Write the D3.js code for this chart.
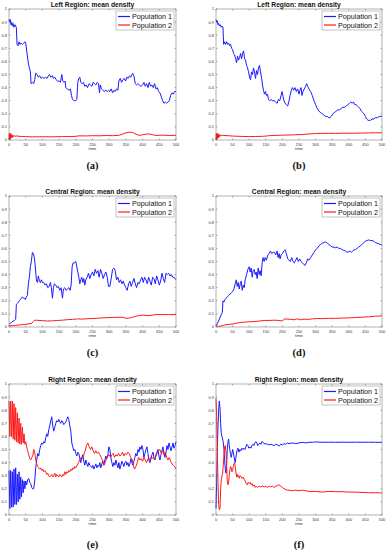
<!DOCTYPE html>
<html>
<head>
<meta charset="utf-8">
<script src="https://cdn.jsdelivr.net/npm/d3@7"></script>
<style>
  body { margin: 0; background: #fff; }
  svg { display: block; }
</style>
</head>
<body>
<svg id="chart" width="388" height="550"></svg>
<script>
(() => {
  const X_TICKS = [0, 50, 100, 150, 200, 250, 300, 350, 400, 450, 500];
  const Y_TICKS = [0, 0.1, 0.2, 0.3, 0.4, 0.5, 0.6, 0.7, 0.8, 0.9, 1];
  const SERIES_NAMES = ["Population 1", "Population 2"];
  const SERIES_COLORS = ["#1a1aff", "#ff1a1a"];

  // [time, mean density]
  const leftA1 = [[0,0.92],[2,0.90],[4,0.92],[6,0.88],[8,0.90],[10,0.87],[12,0.89],[15,0.86],[18,0.88],[20,0.87],[22,0.86],[24,0.73],[27,0.72],[30,0.75],[33,0.73],[36,0.74],[40,0.73],[44,0.74],[48,0.75],[50,0.74],[53,0.68],[56,0.62],[59,0.57],[62,0.54],[64,0.52],[66,0.43],[70,0.44],[74,0.43],[77,0.46],[80,0.51],[84,0.50],[88,0.48],[92,0.49],[96,0.47],[100,0.48],[105,0.47],[110,0.48],[114,0.47],[118,0.49],[121,0.50],[125,0.48],[130,0.49],[133,0.47],[137,0.48],[141,0.46],[145,0.45],[150,0.45],[154,0.44],[158,0.50],[161,0.45],[165,0.44],[168,0.45],[170,0.40],[175,0.39],[180,0.38],[184,0.39],[187,0.34],[190,0.31],[195,0.30],[200,0.30],[203,0.31],[206,0.44],[209,0.47],[212,0.48],[215,0.44],[219,0.43],[223,0.44],[227,0.41],[231,0.42],[235,0.40],[240,0.43],[244,0.42],[248,0.41],[252,0.44],[256,0.43],[260,0.42],[264,0.44],[268,0.43],[271,0.36],[273,0.42],[277,0.39],[281,0.38],[285,0.37],[290,0.38],[294,0.37],[298,0.38],[302,0.37],[306,0.39],[310,0.36],[314,0.38],[318,0.37],[322,0.39],[326,0.38],[329,0.45],[333,0.47],[337,0.44],[341,0.46],[345,0.47],[349,0.45],[353,0.48],[357,0.47],[361,0.49],[365,0.48],[370,0.51],[374,0.49],[378,0.43],[382,0.42],[386,0.43],[390,0.42],[395,0.41],[400,0.42],[404,0.44],[408,0.41],[412,0.43],[416,0.40],[420,0.44],[424,0.41],[428,0.42],[432,0.40],[436,0.43],[440,0.39],[444,0.40],[448,0.37],[452,0.36],[456,0.33],[460,0.30],[464,0.28],[468,0.29],[472,0.28],[476,0.29],[480,0.30],[484,0.34],[488,0.36],[492,0.35],[496,0.37],[500,0.37]];
  const leftA2 = [[0,0.00],[1,0.05],[2,0.01],[3,0.045],[4,0.005],[5,0.05],[6,0.015],[7,0.04],[8,0.02],[9,0.04],[10,0.02],[12,0.035],[14,0.025],[16,0.034],[18,0.027],[20,0.03],[25,0.031],[30,0.028],[40,0.027],[50,0.026],[60,0.025],[70,0.024],[80,0.025],[90,0.024],[100,0.025],[120,0.024],[140,0.025],[160,0.026],[180,0.026],[200,0.028],[210,0.032],[230,0.031],[250,0.033],[270,0.032],[290,0.034],[310,0.033],[330,0.036],[340,0.045],[350,0.055],[360,0.06],[370,0.058],[380,0.045],[390,0.035],[400,0.04],[410,0.045],[420,0.046],[430,0.04],[440,0.035],[460,0.037],[480,0.034],[500,0.036]];

  const leftB1 = [[0,0.92],[2,0.90],[4,0.91],[6,0.88],[8,0.89],[10,0.87],[13,0.88],[16,0.86],[19,0.87],[21,0.86],[23,0.73],[26,0.75],[29,0.73],[32,0.75],[35,0.73],[38,0.74],[41,0.72],[44,0.73],[47,0.70],[50,0.69],[53,0.66],[56,0.65],[59,0.62],[62,0.59],[65,0.64],[68,0.61],[71,0.63],[74,0.66],[77,0.62],[80,0.66],[83,0.68],[86,0.62],[89,0.61],[92,0.57],[95,0.55],[98,0.52],[101,0.48],[104,0.46],[107,0.52],[110,0.50],[113,0.55],[116,0.52],[119,0.47],[122,0.53],[125,0.50],[128,0.55],[131,0.57],[134,0.52],[137,0.48],[140,0.42],[143,0.38],[146,0.35],[149,0.37],[152,0.34],[155,0.35],[158,0.31],[162,0.30],[166,0.31],[170,0.30],[175,0.30],[180,0.29],[184,0.28],[188,0.31],[192,0.30],[196,0.34],[199,0.37],[202,0.33],[205,0.30],[208,0.28],[212,0.27],[216,0.26],[220,0.30],[223,0.34],[227,0.38],[230,0.40],[234,0.38],[238,0.40],[242,0.37],[246,0.39],[250,0.35],[253,0.38],[256,0.40],[259,0.34],[262,0.37],[266,0.39],[270,0.41],[273,0.43],[276,0.41],[280,0.39],[285,0.37],[290,0.34],[295,0.30],[300,0.27],[305,0.24],[310,0.22],[315,0.21],[320,0.20],[325,0.19],[330,0.18],[335,0.18],[340,0.17],[343,0.17],[347,0.18],[352,0.20],[357,0.21],[362,0.22],[367,0.23],[372,0.23],[377,0.24],[382,0.25],[387,0.25],[392,0.26],[397,0.27],[402,0.28],[406,0.29],[410,0.28],[414,0.29],[418,0.27],[422,0.27],[426,0.26],[430,0.25],[434,0.24],[438,0.22],[442,0.21],[446,0.20],[450,0.18],[454,0.16],[458,0.15],[462,0.15],[466,0.15],[470,0.16],[475,0.16],[480,0.17],[486,0.17],[492,0.18],[500,0.18]];
  const leftB2 = [[0,0.0],[1,0.05],[2,0.005],[3,0.045],[4,0.01],[5,0.05],[6,0.015],[7,0.045],[8,0.02],[9,0.04],[10,0.025],[12,0.04],[14,0.03],[16,0.038],[18,0.032],[20,0.036],[30,0.034],[40,0.032],[50,0.03],[60,0.029],[80,0.027],[100,0.026],[120,0.027],[140,0.028],[150,0.03],[160,0.033],[180,0.035],[200,0.037],[220,0.038],[240,0.04],[260,0.042],[280,0.046],[300,0.05],[320,0.05],[340,0.051],[360,0.05],[380,0.052],[400,0.051],[420,0.052],[440,0.053],[460,0.054],[480,0.055],[500,0.055]];

  const centralC1 = [[0,0.02],[4,0.03],[8,0.035],[12,0.045],[16,0.05],[20,0.06],[22,0.17],[25,0.18],[28,0.19],[31,0.20],[34,0.21],[37,0.22],[40,0.23],[43,0.22],[46,0.22],[49,0.21],[52,0.23],[55,0.24],[58,0.33],[61,0.38],[64,0.46],[67,0.50],[70,0.57],[73,0.56],[76,0.53],[78,0.48],[80,0.42],[82,0.36],[85,0.34],[88,0.39],[91,0.35],[94,0.34],[97,0.36],[100,0.34],[104,0.34],[108,0.32],[112,0.33],[116,0.30],[120,0.31],[124,0.34],[127,0.30],[130,0.22],[133,0.30],[136,0.33],[140,0.32],[144,0.30],[148,0.31],[152,0.28],[156,0.30],[160,0.22],[163,0.29],[167,0.30],[171,0.28],[175,0.29],[179,0.30],[183,0.28],[186,0.32],[189,0.46],[192,0.49],[196,0.49],[200,0.50],[203,0.46],[206,0.42],[209,0.38],[212,0.33],[215,0.36],[218,0.38],[221,0.34],[224,0.37],[227,0.32],[230,0.36],[234,0.38],[238,0.41],[242,0.37],[246,0.40],[250,0.42],[254,0.39],[258,0.44],[262,0.41],[266,0.43],[270,0.38],[274,0.44],[278,0.41],[282,0.37],[286,0.40],[290,0.42],[294,0.38],[298,0.31],[302,0.31],[306,0.37],[310,0.44],[314,0.45],[318,0.43],[322,0.36],[326,0.38],[330,0.34],[334,0.36],[338,0.33],[342,0.35],[346,0.32],[350,0.30],[354,0.28],[358,0.33],[362,0.35],[366,0.31],[370,0.34],[374,0.37],[378,0.33],[382,0.30],[386,0.34],[390,0.33],[394,0.36],[398,0.38],[402,0.34],[406,0.38],[410,0.36],[414,0.33],[418,0.38],[422,0.35],[426,0.32],[430,0.38],[434,0.37],[438,0.33],[442,0.39],[446,0.36],[450,0.32],[454,0.35],[458,0.41],[462,0.37],[466,0.34],[470,0.41],[474,0.40],[478,0.41],[482,0.39],[486,0.40],[490,0.38],[494,0.38],[500,0.36]];
  const centralC2 = [[0,0.01],[10,0.01],[20,0.012],[30,0.016],[40,0.018],[50,0.02],[60,0.024],[68,0.028],[72,0.04],[76,0.05],[82,0.052],[90,0.05],[100,0.048],[115,0.046],[130,0.047],[145,0.05],[160,0.052],[175,0.056],[190,0.058],[205,0.062],[220,0.06],[240,0.064],[260,0.066],[280,0.07],[300,0.072],[320,0.074],[340,0.075],[350,0.066],[360,0.068],[370,0.075],[380,0.082],[390,0.088],[400,0.09],[420,0.087],[440,0.095],[460,0.095],[480,0.095],[500,0.095]];

  const centralD1 = [[0,0.01],[5,0.03],[10,0.06],[15,0.09],[19,0.11],[21,0.20],[24,0.19],[27,0.21],[30,0.22],[34,0.23],[38,0.24],[42,0.25],[46,0.26],[50,0.27],[54,0.29],[58,0.33],[61,0.36],[64,0.31],[67,0.34],[70,0.29],[73,0.33],[76,0.35],[79,0.28],[82,0.32],[85,0.30],[88,0.36],[92,0.40],[96,0.44],[100,0.46],[103,0.42],[106,0.45],[109,0.38],[112,0.43],[115,0.44],[118,0.40],[121,0.42],[124,0.37],[127,0.45],[130,0.40],[133,0.43],[136,0.39],[139,0.49],[142,0.53],[145,0.50],[148,0.53],[152,0.51],[156,0.55],[160,0.56],[164,0.58],[168,0.56],[172,0.57],[176,0.57],[180,0.55],[184,0.58],[187,0.53],[190,0.56],[193,0.52],[196,0.55],[200,0.56],[204,0.58],[208,0.59],[212,0.56],[216,0.52],[220,0.51],[224,0.50],[228,0.53],[232,0.50],[236,0.49],[240,0.51],[244,0.53],[248,0.50],[252,0.52],[256,0.50],[260,0.49],[264,0.48],[268,0.47],[272,0.49],[276,0.52],[280,0.51],[285,0.53],[290,0.55],[295,0.57],[300,0.59],[305,0.60],[310,0.62],[315,0.63],[320,0.64],[325,0.645],[330,0.65],[335,0.64],[340,0.63],[345,0.62],[350,0.61],[355,0.61],[360,0.605],[365,0.61],[370,0.60],[375,0.60],[380,0.59],[385,0.585],[390,0.58],[395,0.57],[400,0.575],[404,0.58],[408,0.57],[412,0.58],[416,0.59],[420,0.59],[425,0.60],[430,0.61],[435,0.62],[440,0.63],[445,0.645],[450,0.655],[455,0.66],[460,0.665],[465,0.66],[470,0.66],[475,0.655],[480,0.645],[485,0.64],[490,0.635],[495,0.63],[500,0.625]];
  const centralD2 = [[0,0.01],[8,0.005],[15,0.008],[22,0.012],[30,0.018],[40,0.02],[50,0.022],[60,0.028],[70,0.033],[80,0.036],[90,0.038],[100,0.04],[115,0.042],[130,0.045],[145,0.05],[160,0.05],[175,0.052],[190,0.05],[200,0.046],[206,0.062],[215,0.06],[225,0.058],[235,0.055],[245,0.062],[255,0.055],[265,0.06],[275,0.058],[290,0.062],[305,0.065],[320,0.064],[340,0.066],[360,0.066],[380,0.068],[400,0.07],[420,0.072],[440,0.075],[460,0.078],[480,0.082],[500,0.085]];

  const rightE1 = [[0,0.34],[2.5,0.05],[5,0.34],[7.5,0.06],[10,0.33],[12.5,0.06],[15,0.35],[17.5,0.08],[20,0.36],[22.5,0.08],[25,0.31],[27.5,0.10],[30,0.33],[32.5,0.12],[35,0.29],[37.5,0.14],[40,0.27],[42.5,0.17],[45,0.26],[47.5,0.20],[50,0.26],[53,0.23],[56,0.27],[59,0.28],[62,0.25],[65,0.24],[68,0.21],[71,0.20],[74,0.20],[77,0.26],[80,0.36],[83,0.42],[86,0.47],[89,0.45],[92,0.50],[95,0.53],[98,0.55],[101,0.54],[104,0.56],[107,0.55],[110,0.59],[113,0.62],[116,0.60],[119,0.65],[122,0.68],[125,0.72],[128,0.75],[131,0.68],[134,0.64],[137,0.67],[140,0.70],[143,0.72],[146,0.71],[149,0.73],[152,0.71],[155,0.70],[158,0.72],[161,0.71],[164,0.69],[167,0.70],[170,0.71],[173,0.73],[176,0.75],[179,0.73],[182,0.68],[185,0.64],[188,0.55],[191,0.52],[194,0.49],[197,0.50],[200,0.47],[203,0.45],[206,0.48],[209,0.47],[212,0.43],[215,0.40],[218,0.44],[221,0.46],[224,0.41],[227,0.38],[230,0.42],[233,0.39],[236,0.37],[239,0.40],[242,0.38],[245,0.37],[248,0.36],[251,0.38],[254,0.35],[257,0.37],[260,0.39],[263,0.36],[266,0.38],[269,0.37],[272,0.40],[275,0.36],[278,0.39],[281,0.41],[284,0.38],[287,0.42],[290,0.45],[293,0.43],[296,0.46],[299,0.52],[302,0.50],[305,0.44],[308,0.40],[311,0.37],[314,0.40],[317,0.38],[320,0.42],[323,0.39],[326,0.36],[329,0.40],[332,0.35],[335,0.38],[338,0.41],[341,0.39],[344,0.37],[347,0.40],[350,0.41],[353,0.38],[356,0.40],[359,0.37],[362,0.39],[365,0.43],[368,0.40],[371,0.38],[374,0.41],[377,0.44],[380,0.47],[383,0.45],[386,0.50],[389,0.48],[392,0.52],[395,0.50],[398,0.53],[401,0.50],[404,0.44],[407,0.47],[410,0.50],[413,0.52],[416,0.47],[419,0.42],[422,0.40],[425,0.43],[428,0.46],[431,0.48],[434,0.44],[437,0.42],[440,0.46],[443,0.48],[446,0.50],[449,0.45],[452,0.42],[455,0.46],[458,0.49],[461,0.52],[464,0.47],[467,0.44],[470,0.48],[473,0.53],[476,0.50],[479,0.55],[482,0.52],[485,0.49],[488,0.52],[491,0.55],[494,0.51],[497,0.53],[500,0.56]];
  const rightE2 = [[0,0.87],[2.5,0.60],[5,0.87],[7.5,0.60],[10,0.87],[12.5,0.58],[15,0.85],[17.5,0.57],[20,0.82],[22.5,0.56],[25,0.78],[27.5,0.55],[30,0.74],[32.5,0.54],[35,0.70],[37.5,0.54],[40,0.67],[42.5,0.55],[45,0.62],[47.5,0.54],[50,0.56],[53,0.52],[56,0.49],[59,0.46],[62,0.43],[65,0.42],[68,0.44],[71,0.45],[74,0.50],[77,0.48],[80,0.42],[83,0.39],[86,0.37],[89,0.36],[92,0.35],[95,0.36],[98,0.34],[101,0.35],[104,0.33],[107,0.34],[110,0.33],[113,0.31],[116,0.32],[119,0.30],[122,0.29],[125,0.30],[128,0.31],[131,0.29],[134,0.30],[137,0.32],[140,0.29],[143,0.31],[146,0.30],[149,0.29],[152,0.31],[155,0.30],[158,0.29],[161,0.31],[164,0.30],[167,0.33],[170,0.31],[173,0.33],[176,0.32],[179,0.34],[182,0.33],[185,0.35],[188,0.34],[191,0.36],[194,0.35],[197,0.37],[200,0.36],[204,0.38],[208,0.40],[212,0.42],[216,0.44],[220,0.43],[224,0.46],[228,0.49],[232,0.53],[236,0.55],[240,0.52],[244,0.50],[248,0.52],[252,0.49],[256,0.47],[260,0.49],[264,0.47],[268,0.48],[272,0.46],[276,0.44],[280,0.42],[284,0.38],[288,0.40],[292,0.43],[296,0.45],[300,0.46],[304,0.44],[308,0.46],[312,0.47],[316,0.44],[320,0.46],[324,0.45],[328,0.47],[332,0.45],[336,0.46],[340,0.48],[344,0.45],[348,0.47],[352,0.46],[356,0.48],[360,0.47],[364,0.44],[368,0.43],[372,0.38],[376,0.35],[380,0.37],[384,0.40],[388,0.44],[392,0.42],[396,0.43],[400,0.41],[404,0.44],[408,0.42],[412,0.40],[416,0.43],[420,0.42],[424,0.44],[428,0.43],[432,0.44],[436,0.42],[440,0.45],[444,0.47],[448,0.49],[452,0.50],[456,0.47],[460,0.49],[464,0.46],[468,0.48],[472,0.44],[476,0.42],[480,0.44],[484,0.41],[488,0.39],[492,0.38],[496,0.37],[500,0.35]];

  const rightF1 = [[0,0.05],[2,0.25],[4,0.50],[6,0.68],[8,0.80],[10,0.87],[12,0.82],[14,0.70],[16,0.62],[18,0.60],[20,0.58],[22,0.55],[24,0.50],[26,0.42],[28,0.35],[30,0.32],[32,0.38],[34,0.50],[36,0.56],[38,0.58],[40,0.53],[42,0.49],[44,0.46],[46,0.44],[48,0.47],[50,0.50],[52,0.48],[54,0.45],[56,0.42],[58,0.40],[60,0.44],[63,0.49],[66,0.51],[69,0.48],[72,0.50],[75,0.49],[78,0.51],[81,0.50],[84,0.51],[87,0.50],[90,0.52],[93,0.54],[96,0.53],[99,0.51],[102,0.52],[105,0.51],[108,0.53],[111,0.54],[114,0.53],[117,0.55],[120,0.56],[123,0.55],[126,0.53],[129,0.54],[132,0.55],[135,0.54],[138,0.56],[141,0.555],[144,0.55],[147,0.54],[150,0.545],[155,0.54],[160,0.535],[165,0.54],[170,0.535],[175,0.53],[180,0.54],[185,0.535],[190,0.525],[195,0.54],[200,0.535],[205,0.545],[210,0.54],[215,0.55],[220,0.545],[230,0.55],[240,0.545],[250,0.55],[260,0.555],[270,0.55],[280,0.555],[290,0.555],[300,0.558],[320,0.555],[340,0.556],[360,0.555],[380,0.556],[400,0.555],[420,0.556],[440,0.555],[460,0.556],[480,0.555],[500,0.555]];
  const rightF2 = [[0,0.89],[2,0.75],[4,0.50],[6,0.25],[8,0.08],[10,0.04],[12,0.05],[14,0.20],[16,0.27],[18,0.30],[20,0.32],[22,0.38],[24,0.46],[26,0.52],[28,0.53],[30,0.48],[32,0.38],[34,0.26],[36,0.23],[38,0.25],[40,0.30],[42,0.35],[44,0.37],[46,0.36],[48,0.33],[50,0.34],[52,0.37],[54,0.39],[56,0.40],[58,0.37],[60,0.33],[62,0.29],[64,0.31],[66,0.29],[68,0.30],[70,0.28],[73,0.30],[76,0.29],[79,0.28],[82,0.29],[85,0.27],[88,0.26],[91,0.24],[94,0.23],[97,0.25],[100,0.24],[103,0.25],[106,0.23],[109,0.24],[112,0.22],[115,0.23],[118,0.21],[121,0.22],[125,0.21],[130,0.22],[135,0.215],[140,0.22],[145,0.215],[150,0.22],[155,0.21],[160,0.22],[165,0.215],[170,0.22],[175,0.21],[180,0.22],[185,0.225],[190,0.23],[195,0.22],[200,0.21],[205,0.20],[210,0.195],[215,0.19],[220,0.19],[230,0.185],[240,0.19],[250,0.185],[260,0.19],[270,0.185],[280,0.18],[300,0.18],[320,0.175],[340,0.18],[360,0.178],[380,0.178],[400,0.175],[420,0.175],[440,0.172],[460,0.17],[480,0.17],[500,0.168]];

  const panels = [
    { title: "Left Region: mean density", caption: "(a)", col: 0, row: 0, series: [leftA1, leftA2] },
    { title: "Left Region: mean density", caption: "(b)", col: 1, row: 0, series: [leftB1, leftB2] },
    { title: "Central Region: mean density", caption: "(c)", col: 0, row: 1, series: [centralC1, centralC2] },
    { title: "Central Region: mean density", caption: "(d)", col: 1, row: 1, series: [centralD1, centralD2] },
    { title: "Right Region: mean density", caption: "(e)", col: 0, row: 2, series: [rightE1, rightE2] },
    { title: "Right Region: mean density", caption: "(f)", col: 1, row: 2, series: [rightF1, rightF2] },
  ];

  const colLeft = [9, 216];
  const colWidth = [167, 166];
  const rowTop = [9, 196, 384];
  const rowCaption = [168.5, 355.5, 547.5];
  const axHeight = 131;

  const sans = "'Liberation Sans', Arial, Helvetica, sans-serif";
  const serif = "'Liberation Serif', 'Times New Roman', serif";
  const svg = d3.select("#chart");

  panels.forEach((p) => {
    const left = colLeft[p.col];
    const width = colWidth[p.col];
    const top = rowTop[p.row];

    const x = d3.scaleLinear().domain([0, 500]).range([left, left + width]);
    const y = d3.scaleLinear().domain([0, 1]).range([top + axHeight, top]);

    const g = svg.append("g");

    // ticks, inside, on all four sides
    const tickLen = 1.6;
    const ticks = g.append("g").attr("stroke", "#666").attr("stroke-width", 0.5);
    X_TICKS.forEach((t) => {
      ticks.append("line").attr("x1", x(t)).attr("x2", x(t)).attr("y1", y(0)).attr("y2", y(0) - tickLen);
      ticks.append("line").attr("x1", x(t)).attr("x2", x(t)).attr("y1", y(1)).attr("y2", y(1) + tickLen);
    });
    Y_TICKS.forEach((v) => {
      ticks.append("line").attr("x1", x(0)).attr("x2", x(0) + tickLen).attr("y1", y(v)).attr("y2", y(v));
      ticks.append("line").attr("x1", x(500)).attr("x2", x(500) - tickLen).attr("y1", y(v)).attr("y2", y(v));
    });

    const line = d3.line().x((d) => x(d[0])).y((d) => y(d[1]));
    p.series.forEach((data, i) => {
      g.append("path")
        .datum(data)
        .attr("fill", "none")
        .attr("stroke", SERIES_COLORS[i])
        .attr("stroke-width", 1)
        .attr("stroke-linejoin", "round")
        .attr("d", line);
    });

    g.append("rect")
      .attr("x", left)
      .attr("y", top)
      .attr("width", width)
      .attr("height", axHeight)
      .attr("fill", "none")
      .attr("stroke", "#666")
      .attr("stroke-width", 0.5);

    g.append("g")
      .selectAll("text")
      .data(X_TICKS)
      .join("text")
      .attr("x", (d) => x(d))
      .attr("y", y(0) + 5.5)
      .attr("text-anchor", "middle")
      .attr("font-family", sans)
      .attr("font-size", 4)
      .attr("fill", "#333")
      .text((d) => d);

    g.append("g")
      .selectAll("text")
      .data(Y_TICKS)
      .join("text")
      .attr("x", x(0) - 2)
      .attr("y", (d) => y(d) + 1.4)
      .attr("text-anchor", "end")
      .attr("font-family", sans)
      .attr("font-size", 4)
      .attr("fill", "#333")
      .text((d) => d3.format("~g")(d));

    g.append("text")
      .attr("x", left + width / 2)
      .attr("y", y(0) + 9.5)
      .attr("text-anchor", "middle")
      .attr("font-family", sans)
      .attr("font-size", 4.2)
      .attr("fill", "#333")
      .text("time");

    g.append("text")
      .attr("x", left + width / 2)
      .attr("y", top - 2.5)
      .attr("text-anchor", "middle")
      .attr("font-family", sans)
      .attr("font-weight", "bold")
      .attr("font-size", 6.7)
      .attr("fill", "#111")
      .text(p.title);

    // legend, top right
    const lw = 58, lh = 19;
    const lx = left + width - 2 - lw;
    const ly = top + 2;
    const legend = g.append("g");
    legend.append("rect")
      .attr("x", lx).attr("y", ly).attr("width", lw).attr("height", lh)
      .attr("fill", "#fff").attr("stroke", "#888").attr("stroke-width", 0.5);
    SERIES_NAMES.forEach((name, i) => {
      const cy = ly + 5.5 + i * 8.5;
      legend.append("line")
        .attr("x1", lx + 2).attr("x2", lx + 14).attr("y1", cy).attr("y2", cy)
        .attr("stroke", SERIES_COLORS[i]).attr("stroke-width", 1.2);
      legend.append("text")
        .attr("x", lx + 16).attr("y", cy + 2.5)
        .attr("font-family", sans).attr("font-size", 7.2).attr("fill", "#111")
        .text(name);
    });

    svg.append("text")
      .attr("x", left + width / 2)
      .attr("y", rowCaption[p.row])
      .attr("text-anchor", "middle")
      .attr("font-family", serif)
      .attr("font-weight", "bold")
      .attr("font-size", 10.5)
      .attr("fill", "#111")
      .text(p.caption);
  });
})();
</script>
</body>
</html>
